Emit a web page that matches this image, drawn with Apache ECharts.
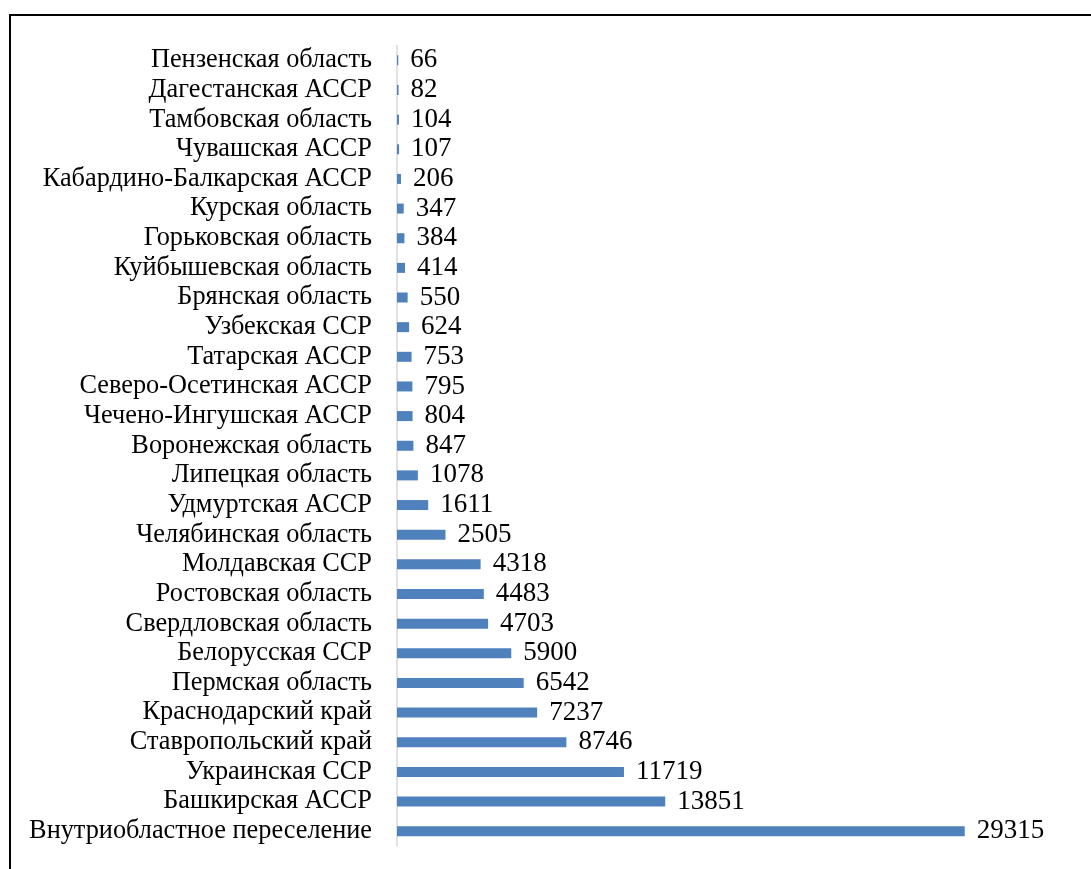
<!DOCTYPE html>
<html><head><meta charset="utf-8">
<script src="https://cdn.jsdelivr.net/npm/echarts@6/dist/echarts.min.js"></script>
<style>html,body{margin:0;padding:0;background:#fff}#c{width:1091px;height:869px}</style>
</head><body><div id="c"></div>
<script>
const categories = [
  "Внутриобластное переселение","Башкирская АССР","Украинская ССР","Ставропольский край",
  "Краснодарский край","Пермская область","Белорусская ССР","Свердловская область",
  "Ростовская область","Молдавская ССР","Челябинская область","Удмуртская АССР",
  "Липецкая область","Воронежская область","Чечено-Ингушская АССР","Северо-Осетинская АССР",
  "Татарская АССР","Узбекская ССР","Брянская область","Куйбышевская область",
  "Горьковская область","Курская область","Кабардино-Балкарская АССР","Чувашская АССР",
  "Тамбовская область","Дагестанская АССР","Пензенская область"
];
const values = [29315,13851,11719,8746,7237,6542,5900,4703,4483,4318,2505,1611,1078,847,804,795,753,624,550,414,384,347,206,107,104,82,66];

const chart = echarts.init(document.getElementById('c'));
chart.setOption({
  animation:false,
  backgroundColor:'#fff',
  graphic:[{type:'rect',shape:{x:10,y:15,width:1200,height:1000},style:{fill:'none',stroke:'#000',lineWidth:2},silent:true}],
  grid:{left:397,top:45.5,width:581,height:800.5,containLabel:false},
  xAxis:{type:'value',min:0,max:30000,show:false,splitLine:{show:false}},
  yAxis:{type:'category',data:categories,
    axisLine:{show:true,lineStyle:{color:'#D9D9D9',width:1.5}},
    axisTick:{show:false},
    axisLabel:{interval:0,hideOverlap:false,margin:25,color:'#000',fontFamily:'Liberation Serif',fontSize:26.3}},
  series:[{type:'bar',data:values,barWidth:10,itemStyle:{color:'#4F81BD'},
    label:{show:true,position:'right',distance:12,color:'#000',fontFamily:'Liberation Serif',fontSize:27}}]
});
</script></body></html>
